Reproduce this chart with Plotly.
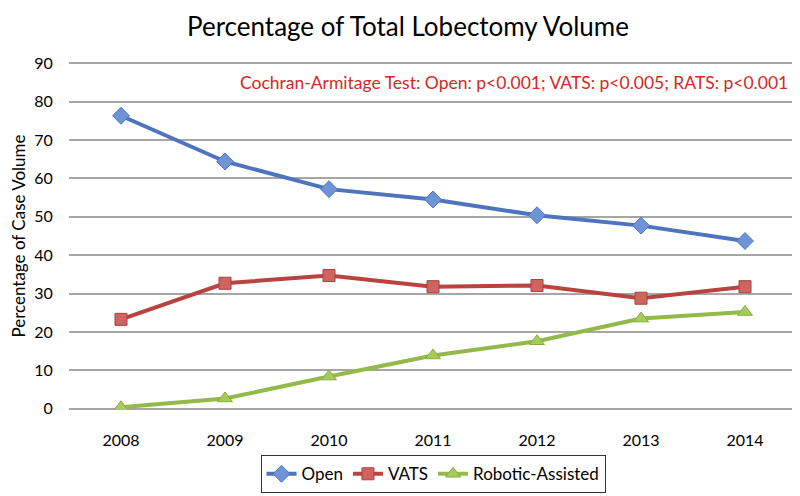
import plotly.graph_objects as go

years = ["2008", "2009", "2010", "2011", "2012", "2013", "2014"]
open_vals = [76.3, 64.4, 57.2, 54.5, 50.4, 47.7, 43.7]
vats_vals = [23.3, 32.7, 34.7, 31.8, 32.1, 28.8, 31.8]
rats_vals = [0.4, 2.7, 8.4, 13.9, 17.6, 23.5, 25.2]
y_ticks = [0, 10, 20, 30, 40, 50, 60, 70, 80, 90]

FONT = "Lato, Open Sans, sans-serif"

fig = go.Figure()
fig.add_trace(go.Scatter(x=years, y=open_vals, name="Open", mode="lines+markers",
                         line=dict(color="#4F74BE", width=4),
                         marker=dict(symbol="diamond", size=13, color="#6E93D6",
                                     line=dict(color="#4F74BE", width=1))))
fig.add_trace(go.Scatter(x=years, y=vats_vals, name="VATS", mode="lines+markers",
                         line=dict(color="#B8433F", width=4),
                         marker=dict(symbol="square", size=12, color="#CF6461",
                                     line=dict(color="#A5403C", width=1))))
fig.add_trace(go.Scatter(x=years, y=rats_vals, name="Robotic-Assisted", mode="lines+markers",
                         line=dict(color="#93BA48", width=4),
                         marker=dict(symbol="triangle-up", size=13, color="#A6CA5C",
                                     line=dict(color="#88AD40", width=1))))

fig.update_layout(
    template="none",
    width=800, height=496,
    paper_bgcolor="white", plot_bgcolor="white",
    margin=dict(l=61, r=11, t=54, b=86),
    font=dict(family=FONT, color="#000000", size=15),
    title=dict(text="Percentage of Total Lobectomy Volume", x=0.5, xanchor="center",
               y=0.962, yanchor="middle", font=dict(size=26, family=FONT, color="#000")),
    showlegend=True,
    legend=dict(orientation="h", x=0.5, xanchor="center", y=-0.13, yanchor="top",
                bordercolor="#333333", borderwidth=1, font=dict(size=17, family=FONT),
                bgcolor="white", tracegroupgap=0),
)
fig.update_xaxes(type="category", showgrid=False, showline=False, zeroline=False,
                 ticks="outside", ticklen=16, tickcolor="rgba(0,0,0,0)",
                 tickfont=dict(size=16), range=[-0.5, 6.5])
fig.update_yaxes(range=[-0.3, 90.3], tickvals=y_ticks, showgrid=True,
                 gridcolor="#A6A6A6", gridwidth=2,
                 zeroline=False, showline=False,
                 ticks="outside", ticklen=12, tickcolor="rgba(0,0,0,0)",
                 tickfont=dict(size=16),
                 title=dict(text="Percentage of Case Volume", font=dict(size=17), standoff=10))

fig.add_annotation(text="Cochran-Armitage Test: Open: p<0.001; VATS: p<0.005; RATS: p<0.001",
                   xref="paper", yref="y", x=0.99, y=85, xanchor="right", yanchor="middle",
                   showarrow=False, font=dict(size=17.5, color="#D12A26", family=FONT))

fig.write_html("out.html")
